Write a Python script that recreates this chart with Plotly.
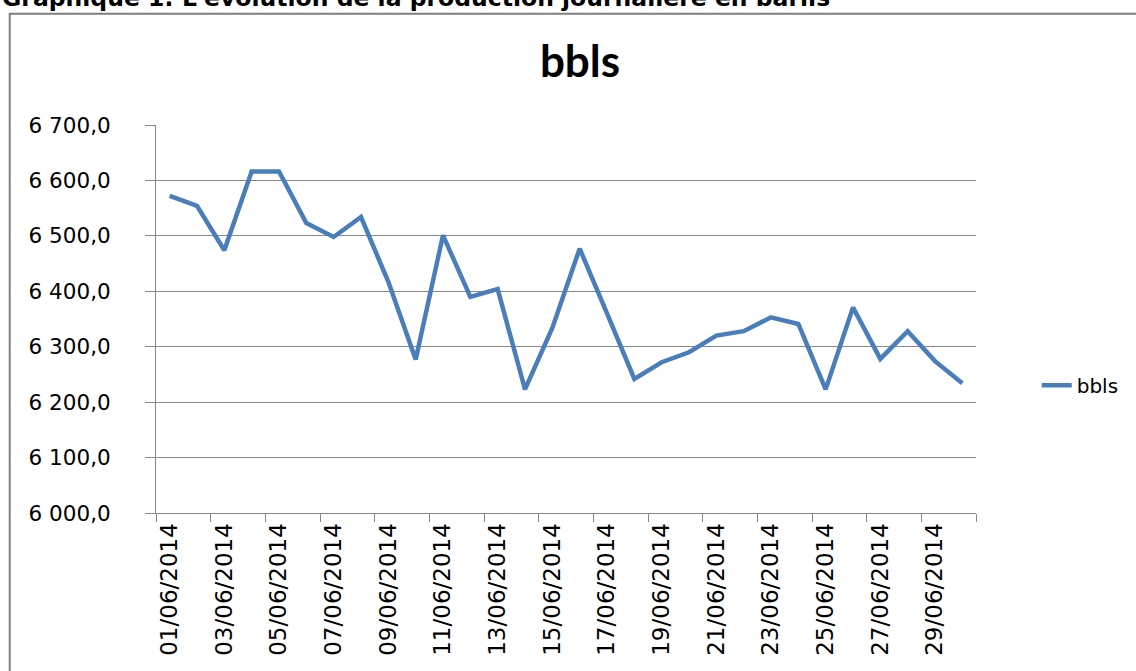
import plotly.graph_objects as go

dates = ["%02d/06/2014" % d for d in range(1, 31)]
bbls = [6572, 6554, 6474, 6616, 6616, 6523, 6498, 6534, 6417, 6277,
        6501, 6390, 6404, 6223, 6334, 6477, 6360, 6242, 6272, 6290,
        6320, 6328, 6353, 6341, 6223, 6371, 6278, 6328, 6274, 6234]

series_name = "bbls"
chart_title = "bbls"
heading = "Graphique 1: L'évolution de la production journalière en barils"

W, H = 1136, 671
L, R, T, B = 156, 980, 124.5, 513
pw, ph = R - L, B - T

def px_x(x):
    return (x - L) / pw

def px_y(y):
    return (B - y) / ph

grey = "#868686"

fig = go.Figure()
fig.add_trace(go.Scatter(x=dates, y=bbls, mode="lines", name=series_name,
                         line=dict(color="#4a7ebb", width=4.5)))

fig.update_layout(
    width=W, height=H,
    margin=dict(l=L, r=W - R, t=T, b=H - B, pad=0),
    paper_bgcolor="white", plot_bgcolor="white",
    separators=", ",
    font=dict(family="DejaVu Sans", color="black"),
    showlegend=True,
    legend=dict(x=px_x(1041), y=px_y(385), xanchor="left", yanchor="middle",
                font=dict(family="DejaVu Sans", size=20, color="black"),
                bgcolor="rgba(0,0,0,0)"),
    title=dict(text="<b>%s</b>" % chart_title, x=580 / W, xref="container",
               y=1 - 62 / H, yref="container", xanchor="center", yanchor="middle",
               font=dict(family="Lato", size=44, color="black")),
)

fig.update_xaxes(type="category", tickmode="linear", tick0=0, dtick=2,
                 tickson="boundaries", ticks="outside", ticklen=8, tickcolor=grey,
                 showline=True, linecolor=grey, linewidth=1, showgrid=False,
                 tickangle=-90, tickfont=dict(family="DejaVu Sans", size=23, color="black"),
                 range=[-0.5, 29.5])
fig.update_yaxes(range=[6000, 6700], dtick=100, tickformat=",.1f",
                 ticks="outside", ticklen=10, tickcolor=grey,
                 showline=True, linecolor=grey, linewidth=1,
                 showgrid=True, gridcolor=grey, gridwidth=1,
                 ticklabelstandoff=30,
                 tickfont=dict(family="DejaVu Sans", size=21.5, color="black"),
                 zeroline=False)

# outer chart border
fig.add_shape(type="rect", xref="paper", yref="paper",
              x0=px_x(9), x1=px_x(1200), y0=px_y(720), y1=px_y(13),
              line=dict(color="#7f7f7f", width=2), fillcolor="rgba(0,0,0,0)", layer="below")

fig.add_annotation(text="<b>%s</b>" % heading, xref="paper", yref="paper",
                   x=px_x(-1), y=px_y(-3), xanchor="left", yanchor="middle",
                   showarrow=False, font=dict(family="DejaVu Sans", size=23.5, color="black"))

fig.write_html("out.html", config={"displayModeBar": False},
               post_script="document.body.style.margin='0px';")
